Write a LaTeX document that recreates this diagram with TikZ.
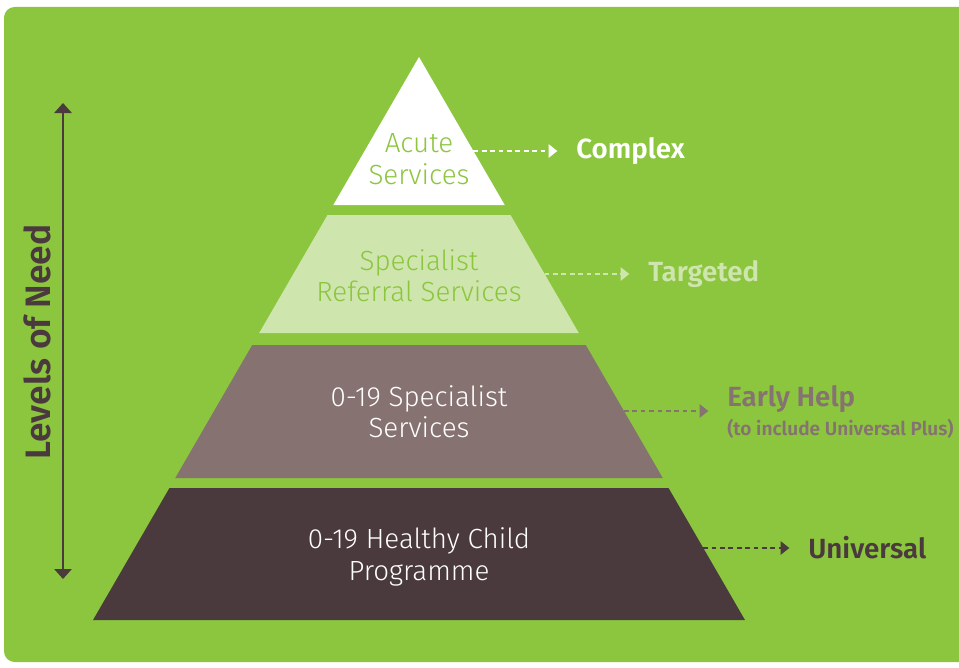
\documentclass[tikz,border=0pt]{standalone}
\usepackage{fontspec}
\setmainfont{Fira Sans Light}[BoldFont={Fira Sans SemiBold}]
\usetikzlibrary{arrows.meta,positioning}
\definecolor{bggreen}{HTML}{8CC63F}
\definecolor{lightlev}{HTML}{CFE5AE}
\definecolor{midlev}{HTML}{857271}
\definecolor{darklev}{HTML}{4A3A3D}
\begin{document}
\begin{tikzpicture}[x=0.75pt,y=-0.75pt,
    layertext/.style={align=center,font=\fontsize{20.8}{23.5}\selectfont},
    levlabel/.style={anchor=west,inner sep=0pt,font=\bfseries\fontsize{20.8}{24}\selectfont},
    levarrow/.style={line width=1.1pt,dash pattern=on 3.5pt off 2.8pt,
      -{Triangle[length=6.5pt,width=10pt]},shorten >=14pt},
    needline/.style={line width=1.5pt,darklev,
      {Triangle[length=7.5pt,width=13pt]}-{Triangle[length=7.5pt,width=13pt]}}]
  \useasboundingbox (0,0) rectangle (959,667);
  \clip (0,0) rectangle (959,667);
  \fill[bggreen,rounded corners=8] (4,7) rectangle (990,662);
  \def\apx{419}
  \def\slope{0.579}
  % pyramid levels
  \foreach \top/\bot/\col in {57/205/white,215/333/lightlev,345/478/midlev,488/620/darklev} {
    \fill[\col] ({\apx-\slope*(\top-57)},\top) -- ({\apx+\slope*(\top-57)},\top)
      -- ({\apx+\slope*(\bot-57)},\bot) -- ({\apx-\slope*(\bot-57)},\bot) -- cycle;
  }
  \node[layertext,bggreen] (acute) at (\apx,159) {Acute\\Services};
  \node[layertext,bggreen] (referral) at (\apx,276) {Specialist\\Referral Services};
  \node[layertext,white] (specialist) at (\apx,412) {0-19 Specialist\\Services};
  \node[layertext,white] (healthy) at (\apx,557) {0-19 Healthy Child\\Programme};
  % right hand labels
  \node[levlabel,white] (complex) at (576,151) {Complex};
  \node[levlabel,lightlev] (targeted) at (648,274) {Targeted};
  \node[levlabel,midlev,align=left] (earlyhelp) at (727,412)
    {Early Help\\[-2pt]{\fontsize{14.3}{17}\selectfont(to include Universal Plus)}};
  \node[levlabel,darklev] (universal) at (808,548) {Universal};
  \coordinate (e1) at ({\apx+\slope*(151-57)},151);
  \coordinate (e2) at ({\apx+\slope*(274-57)},274);
  \coordinate (e3) at ({\apx+\slope*(411-57)},411);
  \coordinate (e4) at ({\apx+\slope*(548-57)},548);
  \draw[levarrow,white] (e1) -- (e1 -| complex.west);
  \draw[levarrow,lightlev] (e2) -- (e2 -| targeted.west);
  \draw[levarrow,midlev] (e3) -- (e3 -| earlyhelp.west);
  \draw[levarrow,darklev] (e4) -- (e4 -| universal.west);
  % levels of need
  \coordinate (needtop) at (63,103);
  \coordinate (needbot) at (63,579);
  \draw[needline] (needtop) -- (needbot);
  \node[rotate=90,darklev,font=\bfseries\fontsize{26.5}{30}\selectfont] (need) at (37,342) {Levels of Need};
\end{tikzpicture}
\end{document}
